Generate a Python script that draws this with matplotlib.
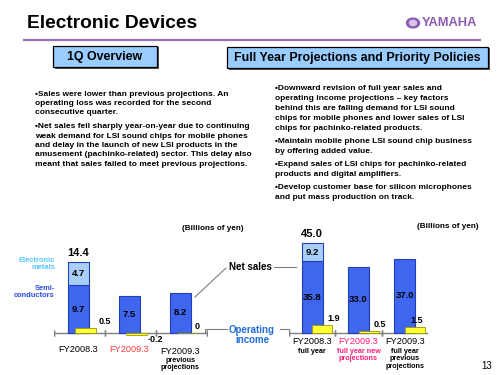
import matplotlib
matplotlib.use('Agg')
import matplotlib.pyplot as plt
import numpy as np
from matplotlib.patches import Rectangle, Circle
from matplotlib.lines import Line2D

plt.rcParams['font.family'] = ['Liberation Sans', 'DejaVu Sans']

# ---- data ----
q_labels = ['FY2008.3', 'FY2009.3', 'FY2009.3']
q_subs = ['', '', 'previous\nprojections']
q_semi = [9.7, 7.5, 8.2]       # semiconductors / net sales
q_metals = [4.7, 0, 0]         # electronic metals
q_op = [0.5, -0.2, 0]          # operating income

fy_labels = ['FY2008.3', 'FY2009.3', 'FY2009.3']
fy_subs = ['full year', 'full year new\nprojections', 'full year\nprevious\nprojections']
fy_semi = [35.8, 33.0, 37.0]
fy_metals = [9.2, 0, 0]
fy_op = [1.9, 0.5, 1.5]

left_text = [
    ['\u2022Sales were lower than previous projections. An',
     'operating loss was recorded for the second',
     'consecutive quarter.'],
    ['\u2022Net sales fell sharply year-on-year due to continuing',
     'weak demand for LSI sound chips for mobile phones',
     'and delay in the launch of new LSI products in the',
     'amusement (pachinko-related) sector. This delay also',
     'meant that sales failed to meet previous projections.'],
]
right_text = [
    ['\u2022Downward revision of full year sales and',
     'operating income projections \u2013 key factors',
     'behind this are falling demand for LSI sound',
     'chips for mobile phones and lower sales of LSI',
     'chips for pachinko-related products.'],
    ['\u2022Maintain mobile phone LSI sound chip business',
     'by offering added value.'],
    ['\u2022Expand sales of LSI chips for pachinko-related',
     'products and digital amplifiers.'],
    ['\u2022Develop customer base for silicon microphones',
     'and put mass production on track.'],
]

BLUE = '#3f66ee'
BLUE_E = '#2040b8'
LIGHT = '#a9cff6'
YEL = '#ffff33'
YEL_E = '#9a9a00'
GRAY = '#808080'

W, H = 500, 375
fig = plt.figure(figsize=(5, 3.75), dpi=100)


def fx(px):
    return px / W


def fy(py):
    return 1 - py / H


# ---- header ----
fig.text(fx(27), fy(24), 'Electronic Devices', fontsize=13.8, fontweight='bold', va='center')
fig.add_artist(Line2D([fx(24), fx(480)], [fy(40), fy(40)], color='#9370b8', lw=1.6))
fig.add_artist(Circle((fx(413), fy(23)), 6.5 / W, color='#8a5cb0', transform=fig.transFigure))
fig.add_artist(Circle((fx(413), fy(23)), 3.5 / W, color='#d8c4ea', transform=fig.transFigure))
fig.text(fx(422), fy(23.5), 'YAMAHA', fontsize=9.3, fontweight='bold', color='#8a5cb0', va='center')


def box(x0, y0, x1, y1, txt):
    fig.add_artist(Rectangle((fx(x0 + 1.5), fy(y1 + 1.5)), (x1 - x0) / W, (y1 - y0) / H,
                             transform=fig.transFigure, color='#555555', lw=0))
    fig.add_artist(Rectangle((fx(x0), fy(y1)), (x1 - x0) / W, (y1 - y0) / H,
                             transform=fig.transFigure, facecolor='#99ccff', edgecolor='black', lw=0.9))
    fig.text(fx((x0 + x1) / 2), fy((y0 + y1) / 2 + 0.5), txt, fontsize=8.9, fontweight='bold',
             ha='center', va='center')


box(53, 46, 157, 67, '1Q Overview')
box(227, 47, 488, 68, 'Full Year Projections and Priority Policies')

# ---- bullet text ----
def paragraphs(x, y, paras, step, gap):
    for p in paras:
        for line in p:
            fig.text(fx(x), fy(y), line, fontsize=6.0, fontweight='bold', va='center')
            y += step
        y += gap


paragraphs(35, 94, left_text, 9.4, 4.5)
paragraphs(275, 88, right_text, 10.1, 3.0)

fig.text(fx(182), fy(228), '(Billions of yen)', fontsize=5.9, fontweight='bold', va='center')
fig.text(fx(417), fy(226), '(Billions of yen)', fontsize=5.9, fontweight='bold', va='center')


# ---- charts ----
def chart(rect_px, xs, sales_scale, semi, metals, op, labels, lab_colors, subs, sub_color,
          bw, boff, ow, ooff, op_lab_x, lab_y):
    x0, x1, ytop, ybot, base = rect_px
    ax = fig.add_axes([fx(x0), fy(ybot), (x1 - x0) / W, (ybot - ytop) / H])
    ax.set_xlim(-0.5, 2.5)
    ax.set_ylim(-(ybot - base) / sales_scale, (base - ytop) / sales_scale)
    ax2 = ax.twinx()
    ax2.set_ylim(-(ybot - base) / (2 * sales_scale), (base - ytop) / (2 * sales_scale))
    for a in (ax, ax2):
        a.patch.set_visible(False)
        for s in a.spines.values():
            s.set_visible(False)
        a.set_yticks([])
    ax.set_xticks([])

    x = np.arange(len(semi))
    semi = np.array(semi)
    metals = np.array(metals)
    ax.bar(x + boff, semi, bw, color=BLUE, edgecolor=BLUE_E, lw=0.8, zorder=2)
    m = metals > 0
    ax.bar(x[m] + boff, metals[m], bw, bottom=semi[m], color=LIGHT, edgecolor=BLUE_E, lw=0.8, zorder=2)
    for i in x:
        ax.text(i + boff, semi[i] / 2, f'{semi[i]:.1f}', ha='center', va='center',
                fontsize=6.8, fontweight='bold')
        if metals[i] > 0:
            ax.text(i + boff, semi[i] + metals[i] / 2, f'{metals[i]:.1f}', ha='center',
                    va='center', fontsize=6.8, fontweight='bold')
            ax.annotate(f'{semi[i] + metals[i]:.1f}', (i + boff, semi[i] + metals[i]),
                        xytext=(0, 3), textcoords='offset points', ha='center', va='bottom',
                        fontsize=8, fontweight='bold')

    ax2.bar(x + ooff, op, ow, color=YEL, edgecolor=YEL_E, lw=0.6, zorder=3)
    for i, v in enumerate(op):
        lab = '0' if v == 0 else f'{v:.1f}'
        if v < 0:
            ax2.annotate(lab, (op_lab_x[i], 0), xytext=(0, -1.5), textcoords='offset points',
                         ha='center', va='top', fontsize=6.5, fontweight='bold', zorder=4)
        else:
            ax2.annotate(lab, (op_lab_x[i], v), xytext=(0, 1.5), textcoords='offset points',
                         ha='center', va='bottom', fontsize=6.5, fontweight='bold', zorder=4)

    # baseline with separator ticks
    ax.axhline(0, color=GRAY, lw=1.0, zorder=1)
    for t in xs:
        ax.plot([t, t], [0, 0], marker='|', ms=5, color=GRAY, mew=1.0, zorder=1)

    tr = ax.get_xaxis_transform()
    hh = ybot - ytop
    for i, (lab, col, sub) in enumerate(zip(labels, lab_colors, subs)):
        yl = -(lab_y[i] - ybot) / hh
        ax.text(i + boff, yl, lab, transform=tr, ha='center', va='center', fontsize=6.6,
                color=col, clip_on=False)
        if sub:
            ax.text(i + boff, yl - 6 / hh, sub, transform=tr, ha='center', va='top',
                    fontsize=5.2, fontweight='bold', color=sub_color[i], linespacing=1.05,
                    clip_on=False)
    return ax


chart((54, 207, 240, 340, 333), [-0.5, 0.5, 1.5, 2.5], 4.9, q_semi, q_metals, q_op,
      q_labels, ['black', '#ff3b3b', 'black'], q_subs, ['black'] * 3,
      0.43, -0.02, 0.41, 0.11, [0.5, 1.48, 2.3], [349, 349, 351])
chart((289, 428, 230, 340, 333), [-0.5, 0.5, 1.5], 2.0, fy_semi, fy_metals, fy_op,
      fy_labels, ['black', '#ff1f78', 'black'], fy_subs, ['black', '#ff1f78', 'black'],
      0.45, 0.0, 0.43, 0.22, [0.47, 1.47, 2.26], [342, 342, 342])

# side labels
fig.text(fx(55), fy(264), 'Electronic\nmetals', fontsize=5.4, fontweight='bold', color='#55c8ff',
         ha='right', va='center', linespacing=1.15)
fig.text(fx(55), fy(292), 'Semi-\nconductors', fontsize=5.4, fontweight='bold', color='#2e4de0',
         ha='right', va='center', linespacing=1.15)

# Net sales / Operating income callouts
fig.text(fx(250), fy(267), 'Net sales', fontsize=7, fontweight='bold', ha='center', va='center')
fig.add_artist(Line2D([fx(195), fx(226)], [fy(297), fy(268)], color=GRAY, lw=0.8))
fig.add_artist(Line2D([fx(274), fx(296)], [fy(267), fy(267)], color=GRAY, lw=0.8))
fig.text(fx(252), fy(335), 'Operating\nincome', fontsize=7, fontweight='bold', color='#1f6fd6',
         ha='center', va='center', linespacing=1.1)
fig.add_artist(Line2D([fx(205), fx(205), fx(227)], [fy(333), fy(329), fy(329)], color=GRAY, lw=0.8))
fig.add_artist(Line2D([fx(280), fx(289), fx(289)], [fy(329), fy(329), fy(333)], color=GRAY, lw=0.8))

fig.text(fx(487), fy(366), '13', fontsize=7, ha='center', va='center')

fig.savefig('out.png', dpi=100)
